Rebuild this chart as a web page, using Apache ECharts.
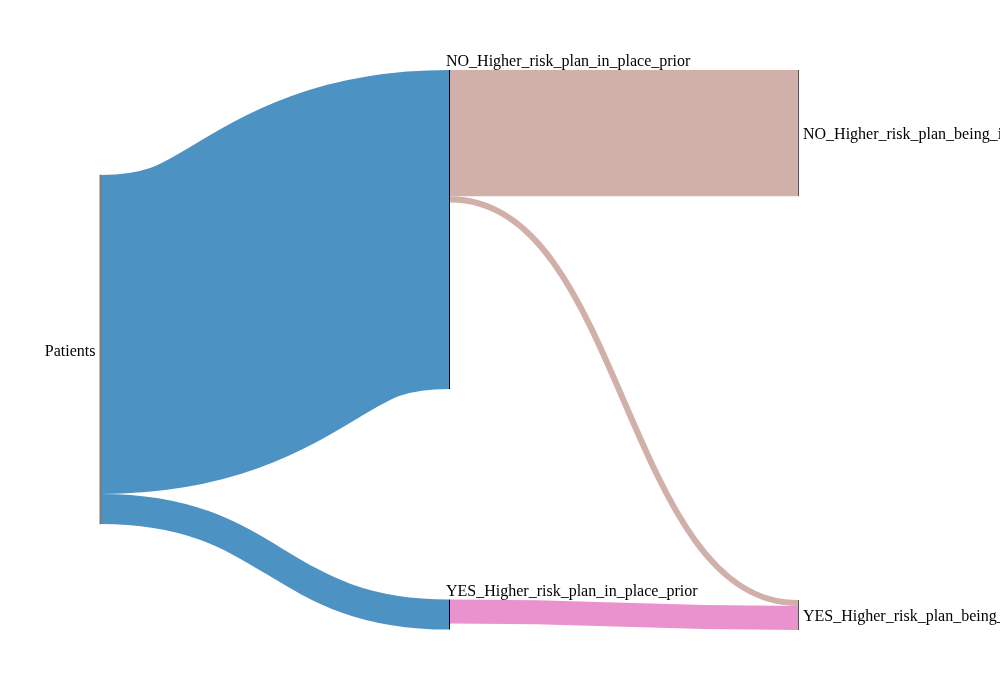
<!DOCTYPE html>
<html>
<head>
<meta charset="utf-8">
<script src="https://cdn.jsdelivr.net/npm/echarts@6/dist/echarts.min.js"></script>
<style>
  html, body { margin: 0; padding: 0; background: #fff; }
  #chart { width: 1000px; height: 700px; }
</style>
</head>
<body>
<div id="chart"></div>
<script>
// ---- data ----
const nodeNames = [
  'Patients',
  'NO_Higher_risk_plan_in_place_prior',
  'YES_Higher_risk_plan_in_place_prior',
  'NO_Higher_risk_plan_being_implemented',
  'YES_Higher_risk_plan_being_implemented'
];
const linkSources = [
  'Patients',
  'Patients',
  'NO_Higher_risk_plan_in_place_prior',
  'NO_Higher_risk_plan_in_place_prior',
  'YES_Higher_risk_plan_in_place_prior'
];
const linkTargets = [
  'NO_Higher_risk_plan_in_place_prior',
  'YES_Higher_risk_plan_in_place_prior',
  'NO_Higher_risk_plan_being_implemented',
  'YES_Higher_risk_plan_being_implemented',
  'YES_Higher_risk_plan_being_implemented'
];
const linkValues = [106, 10, 42, 2, 8];

// ---- styling (layout positions & colours) ----
const W = 1000, H = 700;
const NODE_W = 1;
const NODE_GAP = 351;
const nodePos = {
  'Patients': [100, 175],
  'NO_Higher_risk_plan_in_place_prior': [449, 70],
  'YES_Higher_risk_plan_in_place_prior': [449, 599.5],
  'NO_Higher_risk_plan_being_implemented': [798, 70],
  'YES_Higher_risk_plan_being_implemented': [798, 600]
};
const nodeColor = {
  'Patients': '#7a7a7a',
  'NO_Higher_risk_plan_in_place_prior': '#000000',
  'YES_Higher_risk_plan_in_place_prior': '#000000',
  'NO_Higher_risk_plan_being_implemented': '#5e5252',
  'YES_Higher_risk_plan_being_implemented': '#5e5252'
};
const linkColor = {
  'Patients': '#1f77b4',
  'NO_Higher_risk_plan_in_place_prior': '#c49c94',
  'YES_Higher_risk_plan_in_place_prior': '#e377c2'
};
const labelStyle = { fontFamily: '"Liberation Serif", "Times New Roman", serif', fontSize: 16, color: '#000' };

function labelFor(name, i) {
  if (i === 0) return Object.assign({ position: 'left', distance: 4, offset: [0, 2] }, labelStyle);
  if (i === 1 || i === 2) return Object.assign({ position: [-3, -8], align: 'left', verticalAlign: 'middle' }, labelStyle);
  return Object.assign({ position: 'right', distance: 4, offset: [0, 2] }, labelStyle);
}

// node values = max(in, out), as the sankey computes them
const nodeIn = {}, nodeOut = {};
nodeNames.forEach(n => { nodeIn[n] = 0; nodeOut[n] = 0; });
linkSources.forEach((s, i) => { nodeOut[s] += linkValues[i]; nodeIn[linkTargets[i]] += linkValues[i]; });
const nodeVal = {};
nodeNames.forEach(n => { nodeVal[n] = Math.max(nodeIn[n], nodeOut[n]); });
// scale used by the sankey (middle column is the binding one)
const KY = (H - NODE_GAP) / (nodeVal[nodeNames[1]] + nodeVal[nodeNames[2]]);

// link end offsets inside nodes (links stacked in data order)
const outAcc = {}, inAcc = {};
nodeNames.forEach(n => { outAcc[n] = 0; inAcc[n] = 0; });
const linkGeom = linkSources.map((s, i) => {
  const t = linkTargets[i], v = linkValues[i];
  const g = {
    x0: nodePos[s][0] + NODE_W,
    y0: nodePos[s][1] + (outAcc[s] + v / 2) * KY,
    x1: nodePos[t][0],
    y1: nodePos[t][1] + (inAcc[t] + v / 2) * KY
  };
  outAcc[s] += v; inAcc[t] += v;
  return g;
});

const nodes = nodeNames.map((n, i) => ({
  name: n,
  localX: nodePos[n][0] / W,
  localY: nodePos[n][1] / H,
  itemStyle: { color: nodeColor[n], borderWidth: i === 0 ? 1 : 0, borderColor: nodeColor[n] },
  label: labelFor(n, i)
}));
const links = linkSources.map((s, i) => ({
  source: s,
  target: linkTargets[i],
  value: linkValues[i],
  lineStyle: { color: linkColor[s], opacity: 0, curveness: 0.5 }
}));

const chart = echarts.init(document.getElementById('chart'), null, { renderer: 'canvas' });
chart.setOption({
  animation: false,
  backgroundColor: '#ffffff',
  grid: { left: 0, right: 0, top: 0, bottom: 0, show: false },
  xAxis: { type: 'value', min: 0, max: W, show: false },
  yAxis: { type: 'value', min: 0, max: H, inverse: true, show: false },
  series: [
    {
      type: 'custom',
      coordinateSystem: 'cartesian2d',
      z: 1,
      clip: false,
      silent: true,
      data: linkValues.map((v, i) => [i, v]),
      encode: { x: -1, y: -1 },
      renderItem: function (params, api) {
        const i = api.value(0);
        const v = api.value(1);
        const g = linkGeom[i];
        const p0 = api.coord([g.x0, g.y0]);
        const p1 = api.coord([g.x1, g.y1]);
        const xm = (p0[0] + p1[0]) / 2;
        const w = api.size([0, v * KY])[1];
        return {
          type: 'bezierCurve',
          shape: { x1: p0[0], y1: p0[1], x2: p1[0], y2: p1[1], cpx1: xm, cpy1: p0[1], cpx2: xm, cpy2: p1[1] },
          style: { stroke: linkColor[linkSources[i]], opacity: 0.8, lineWidth: w, fill: null, lineCap: 'butt' }
        };
      }
    },
    {
      type: 'sankey',
      z: 3,
      left: 0, top: 0, right: 0, bottom: 0,
      nodeWidth: NODE_W,
      nodeGap: NODE_GAP,
      layoutIterations: 0,
      draggable: false,
      silent: true,
      emphasis: { disabled: true },
      data: nodes,
      links: links,
      label: labelStyle,
      lineStyle: { curveness: 0.5 }
    }
  ]
});
</script>
</body>
</html>
